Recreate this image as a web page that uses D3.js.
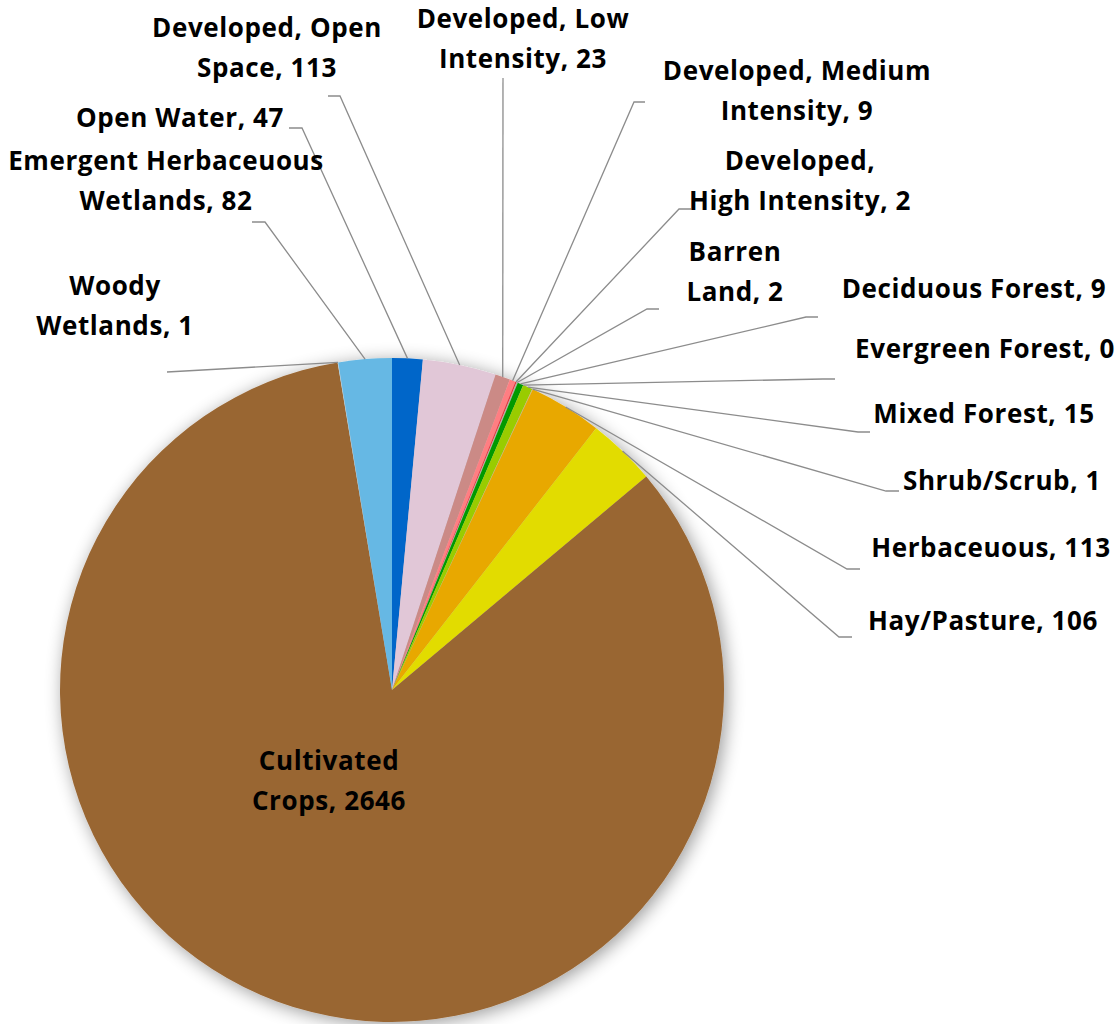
<!DOCTYPE html>
<html>
<head>
<meta charset="utf-8">
<script src="https://cdn.jsdelivr.net/npm/d3@7"></script>
<style>
  body { margin: 0; background: #fff; }
  svg text { font-family: "Open Sans", sans-serif; font-weight: 700; font-size: 26px; letter-spacing: 0.6px; fill: #000; }
</style>
</head>
<body>
<div id="chart"></div>
<script>
// land cover categories, clockwise from 12 o'clock
const categories = ["Open Water", "Developed, Open Space", "Developed, Low Intensity",
  "Developed, Medium Intensity", "Developed, High Intensity", "Barren Land",
  "Deciduous Forest", "Evergreen Forest", "Mixed Forest", "Shrub/Scrub",
  "Herbaceuous", "Hay/Pasture", "Cultivated Crops", "Woody Wetlands",
  "Emergent Herbaceuous Wetlands"];
const values = [47, 113, 23, 9, 2, 2, 9, 0, 15, 1, 113, 106, 2646, 1, 82];
const colors = ["#0566c9", "#e1c7d7", "#cb8a86", "#ff7e82", "#e8333a", "#b3aca0",
  "#009a00", "#1c5f2c", "#99cc00", "#ccb879", "#e8a800", "#e2dc00", "#996633",
  "#b8d9eb", "#66b8e4"];

// label text lines (as printed on the chart)
const labelLines = [
  ["Open Water, 47"],
  ["Developed, Open", "Space, 113"],
  ["Developed, Low", "Intensity, 23"],
  ["Developed, Medium", "Intensity, 9"],
  ["Developed,", "High Intensity, 2"],
  ["Barren", "Land, 2"],
  ["Deciduous Forest, 9"],
  ["Evergreen Forest, 0"],
  ["Mixed Forest, 15"],
  ["Shrub/Scrub, 1"],
  ["Herbaceuous, 113"],
  ["Hay/Pasture, 106"],
  ["Cultivated", "Crops, 2646"],
  ["Woody", "Wetlands, 1"],
  ["Emergent Herbaceuous", "Wetlands, 82"]
];

// label layout: centre x, first baseline y, leader start (ax, ay) and knee (kx, ky)
const labelPos = [
  {x: 180, y: 127, leader: [289, 128, 302, 128]},
  {x: 267, y: 37, leader: [328, 96, 340, 96]},
  {x: 523, y: 28, leader: [503, 78, 503, 78]},
  {x: 797, y: 80, leader: [645, 102, 634, 102]},
  {x: 800, y: 170, leader: [691, 209, 679, 209]},
  {x: 735, y: 261, leader: [659, 309, 647, 309]},
  {x: 974, y: 298, leader: [818, 317, 806, 317]},
  {x: 985, y: 358, leader: [835, 379, 823, 379]},
  {x: 984, y: 423, leader: [870, 432, 858, 432]},
  {x: 1002, y: 490, leader: [899, 491, 886, 491]},
  {x: 991, y: 557, leader: [860, 569, 847, 569]},
  {x: 983, y: 630, leader: [852, 637, 839, 637]},
  {x: 329, y: 770, leader: null},
  {x: 115, y: 295, leader: [167, 372, 167, 372]},
  {x: 166, y: 170, leader: [252, 222, 265, 222]}
];

const width = 1118, height = 1024;
const cx = 392, cy = 690, radius = 332;
const lineHeight = 40;

const svg = d3.select("#chart").append("svg")
  .attr("width", width)
  .attr("height", height);

// soft shadow round the pie
const defs = svg.append("defs");
const f = defs.append("filter").attr("id", "shadow")
  .attr("x", "-20%").attr("y", "-20%").attr("width", "140%").attr("height", "140%");
f.append("feGaussianBlur").attr("in", "SourceAlpha").attr("stdDeviation", 9).attr("result", "blur");
f.append("feOffset").attr("in", "blur").attr("dx", 3).attr("dy", 3).attr("result", "off");
f.append("feComponentTransfer").attr("in", "off").attr("result", "soft")
  .append("feFuncA").attr("type", "linear").attr("slope", 0.4);
const merge = f.append("feMerge");
merge.append("feMergeNode").attr("in", "soft");
merge.append("feMergeNode").attr("in", "SourceGraphic");

const data = categories.map((c, i) => ({name: c, value: values[i], i: i}));

const pie = d3.pie().sort(null).value(d => d.value);
const arcs = pie(data);
const arc = d3.arc().innerRadius(0).outerRadius(radius);
const edgeArc = d3.arc().innerRadius(radius).outerRadius(radius);

const g = svg.append("g").attr("transform", `translate(${cx},${cy})`);

g.append("g").attr("filter", "url(#shadow)")
  .selectAll("path")
  .data(arcs)
  .enter().append("path")
  .attr("d", arc)
  .attr("fill", d => colors[d.data.i]);

// leader lines
const lineGen = d3.line();
g.append("g").selectAll("path")
  .data(arcs.filter(d => labelPos[d.data.i].leader))
  .enter().append("path")
  .attr("d", d => {
    const L = labelPos[d.data.i].leader;
    const p = edgeArc.centroid(d);
    return lineGen([[L[0] - cx, L[1] - cy], [L[2] - cx, L[3] - cy], p]);
  })
  .attr("fill", "none")
  .attr("stroke", "#8c8c8c")
  .attr("stroke-width", 1.3);

// labels
const labels = svg.append("g").selectAll("text")
  .data(data)
  .enter().append("text")
  .attr("text-anchor", "middle")
  .attr("x", d => labelPos[d.i].x)
  .attr("y", d => labelPos[d.i].y);

labels.selectAll("tspan")
  .data(d => labelLines[d.i].map((t, k) => ({t: t, k: k, x: labelPos[d.i].x})))
  .enter().append("tspan")
  .attr("x", d => d.x)
  .attr("dy", d => d.k === 0 ? 0 : lineHeight)
  .text(d => d.t);
</script>
</body>
</html>
